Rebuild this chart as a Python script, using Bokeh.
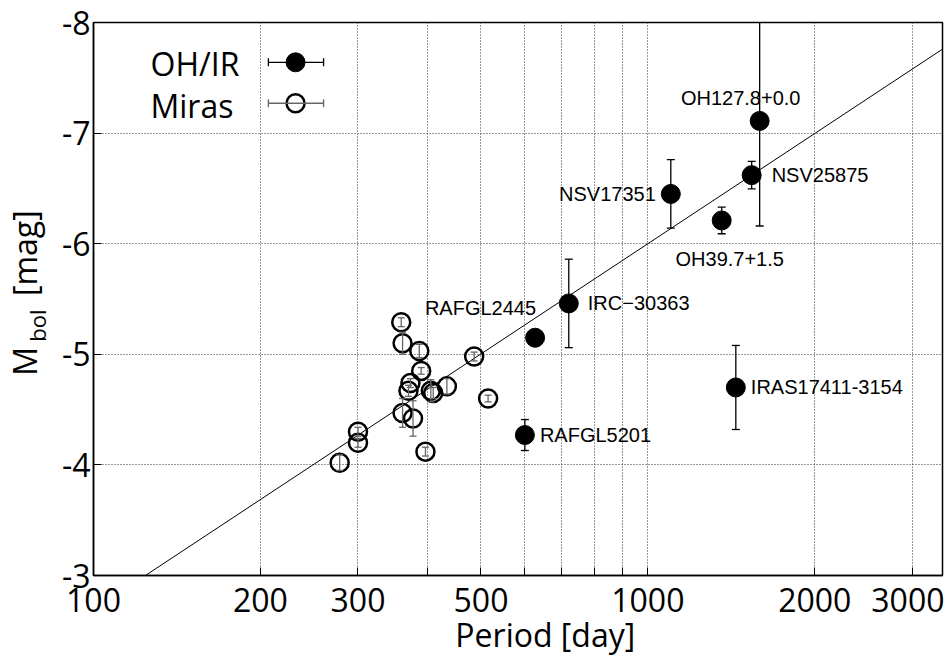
import numpy as np
from bokeh.plotting import figure
from bokeh.models import (ColumnDataSource, Whisker, TeeHead, Label, FixedTicker,
                          Range1d, LinearAxis, LogAxis)
from bokeh.core.properties import value
from bokeh.embed import file_html
from bokeh.resources import INLINE

# ---------------- data ----------------
ohir_names = ["RAFGL5201", "RAFGL2445", "IRC\u221230363", "NSV17351",
              "OH39.7+1.5", "IRAS17411-3154", "NSV25875", "OH127.8+0.0"]
ohir_period = [600, 626, 720, 1100, 1359, 1441, 1539, 1591]
ohir_mbol = [-4.27, -5.15, -5.46, -6.45, -6.21, -4.70, -6.62, -7.11]
ohir_err = [0.14, 0.0, 0.40, 0.31, 0.12, 0.38, 0.125, 0.95]

mira_period = [359, 361, 387, 486, 390, 373, 370, 406, 410, 434, 515,
               361, 377, 300, 300, 397, 278]
mira_mbol = [-5.29, -5.10, -5.03, -4.98, -4.85, -4.74, -4.67, -4.67, -4.65,
             -4.71, -4.60, -4.47, -4.42, -4.30, -4.20, -4.12, -4.02]
mira_err = [0.04, 0.10, 0.06, 0.04, 0.03, 0.04, 0.05, 0.10, 0.05, 0.07,
            0.03, 0.13, 0.16, 0.04, 0.04, 0.04, 0.07]

fit_slope = -3.31
fit_intercept = 3.93
fit_period = [110, 3400]

x_ticks = [100, 200, 300, 400, 500, 600, 700, 800, 900, 1000, 2000, 3000]
x_tick_labels = ["100", "200", "300", "", "500", "", "", "", "", "1000", "2000", "3000"]
y_ticks = [-8, -7, -6, -5, -4, -3]
y_tick_labels = ["-8", "-7", "-6", "-5", "-4", "-3"]

legend_labels = ["OH/IR", "Miras"]
x_title = "Period [day]"
y_title_main = "M"
y_title_sub = "bol"
y_title_unit = "[mag]"

# ---------------- styles / layout ----------------
label_dx = [15, 1, 19, -15, 8, 15, 20, -19]
label_dy = [0, -30, 0, 0, 39, 0, 0, -23]
label_align = ["left", "right", "left", "right", "center", "left", "left", "center"]

X0, X1 = 100, 3400
Y0, Y1 = -3, -8
FONT = "Open Sans"

p = figure(width=944, height=658, x_axis_type="log",
           x_range=Range1d(X0, X1), y_range=Range1d(Y0, Y1),
           output_backend="svg", toolbar_location=None,
           min_border_left=92, min_border_right=2,
           min_border_top=22, min_border_bottom=81)
p.background_fill_color = "white"
p.border_fill_color = "white"
p.outline_line_color = "black"
p.outline_line_width = 1.5

p.xaxis.ticker = FixedTicker(ticks=x_ticks)
p.xaxis.major_label_overrides = dict(zip(x_ticks, x_tick_labels))
p.yaxis.ticker = FixedTicker(ticks=y_ticks)
p.yaxis.major_label_overrides = dict(zip(y_ticks, y_tick_labels))
for ax in (p.xaxis, p.yaxis):
    ax.major_label_text_font = FONT
    ax.major_label_text_font_size = "32px"
    ax.major_label_text_color = "black"
    ax.major_tick_in = 8
    ax.major_tick_out = 0
    ax.minor_tick_line_color = None
    ax.axis_line_width = 1.5
    ax.axis_line_color = "black"
    ax.major_tick_line_color = "black"
p.xaxis.major_label_standoff = 12
p.yaxis.major_label_standoff = 3

for g in (p.xgrid, p.ygrid):
    g.grid_line_color = "#333333"
    g.grid_line_dash = "1 2"
    g.grid_line_width = 1


def title_axis(kind, pos, texts, size, standoff, orientation="horizontal"):
    ax = kind(ticker=FixedTicker(ticks=pos),
              major_label_overrides=dict(zip(pos, texts)),
              major_label_text_font=FONT, major_label_text_font_size=size,
              major_label_text_color="black", major_label_standoff=standoff,
              major_label_orientation=orientation,
              axis_line_color=None, major_tick_line_color=None,
              minor_tick_line_color=None, major_tick_in=0, major_tick_out=0)
    return ax


# x title as a one-tick axis below
x_title_pos = [653]
p.add_layout(title_axis(LogAxis, x_title_pos, [x_title], "32px", -2), "below")

# y title: subscript axis (inner) then main axis (outer)
y_sub_pos = [-5.26]
y_main_pos = [-4.937, -5.914]
p.add_layout(title_axis(LinearAxis, y_sub_pos, [y_title_sub], "22px", 6, "vertical"), "left")
p.add_layout(title_axis(LinearAxis, y_main_pos, [y_title_main, y_title_unit], "32px", -27, "vertical"), "left")

# fit line
fit_x = np.array(fit_period, dtype=float)
fit_y = fit_intercept + fit_slope * np.log10(fit_x)
p.line(fit_x, fit_y, line_color="black", line_width=1)

gray = "#666666"

# Miras
mira_src = ColumnDataSource(dict(
    x=mira_period, y=mira_mbol,
    lower=[m - e for m, e in zip(mira_mbol, mira_err)],
    upper=[m + e for m, e in zip(mira_mbol, mira_err)]))
p.add_layout(Whisker(base="x", lower="lower", upper="upper", source=mira_src,
                     dimension="height", line_color=gray, line_width=1.3, level="glyph",
                     upper_head=TeeHead(size=7, line_color=gray, line_width=1.3),
                     lower_head=TeeHead(size=7, line_color=gray, line_width=1.3)))
p.scatter("x", "y", source=mira_src, marker="circle", size=18,
          fill_color=None, line_color="black", line_width=2.5)

# OH/IR
oh_src = ColumnDataSource(dict(
    x=ohir_period, y=ohir_mbol, name=ohir_names,
    lower=[m - e for m, e in zip(ohir_mbol, ohir_err)],
    upper=[m + e for m, e in zip(ohir_mbol, ohir_err)],
    dx=label_dx, dy=label_dy, align=label_align))
p.add_layout(Whisker(base="x", lower="lower", upper="upper", source=oh_src,
                     dimension="height", line_color="black", line_width=1.3, level="glyph",
                     upper_head=TeeHead(size=8, line_color="black", line_width=1.3),
                     lower_head=TeeHead(size=8, line_color="black", line_width=1.3)))
p.scatter("x", "y", source=oh_src, marker="circle", size=19,
          fill_color="black", line_color="black")
p.text("x", "y", text="name", source=oh_src, x_offset="dx", y_offset="dy",
       text_align="align", text_baseline="middle",
       text_font=value("Liberation Sans"), text_font_size="20px", text_color="black")


# ---------------- legend (positions as frame fractions) ----------------
def fx(f):
    return 10 ** (np.log10(X0) + f * (np.log10(X1) - np.log10(X0)))


def fy(f):  # fraction from top
    return Y1 + f * (Y0 - Y1)


leg_rows = [0.072, 0.146]
leg_styles = [("black", "black", 1, 19), (gray, None, 2.5, 18)]
for r, (col, fill, lw, sz) in zip(leg_rows, leg_styles):
    s = ColumnDataSource(dict(y=[fy(r)], x=[fx(0.238)],
                              lo=[fx(0.206)], hi=[fx(0.271)]))
    p.add_layout(Whisker(base="y", lower="lo", upper="hi", source=s, dimension="width",
                         line_color=col, line_width=1.3, level="glyph",
                         upper_head=TeeHead(size=8, line_color=col, line_width=1.3),
                         lower_head=TeeHead(size=8, line_color=col, line_width=1.3)))
    p.scatter("x", "y", source=s, marker="circle", size=sz,
              fill_color=fill, line_color="black", line_width=lw)

for txt, sy in zip(legend_labels, [512, 470]):
    p.add_layout(Label(x=57, y=sy, x_units="screen", y_units="screen", text=txt,
                       text_font=FONT, text_font_size="32px",
                       text_align="left", text_baseline="alphabetic", text_color="black"))

open("out.html", "w").write(file_html(p, INLINE))
